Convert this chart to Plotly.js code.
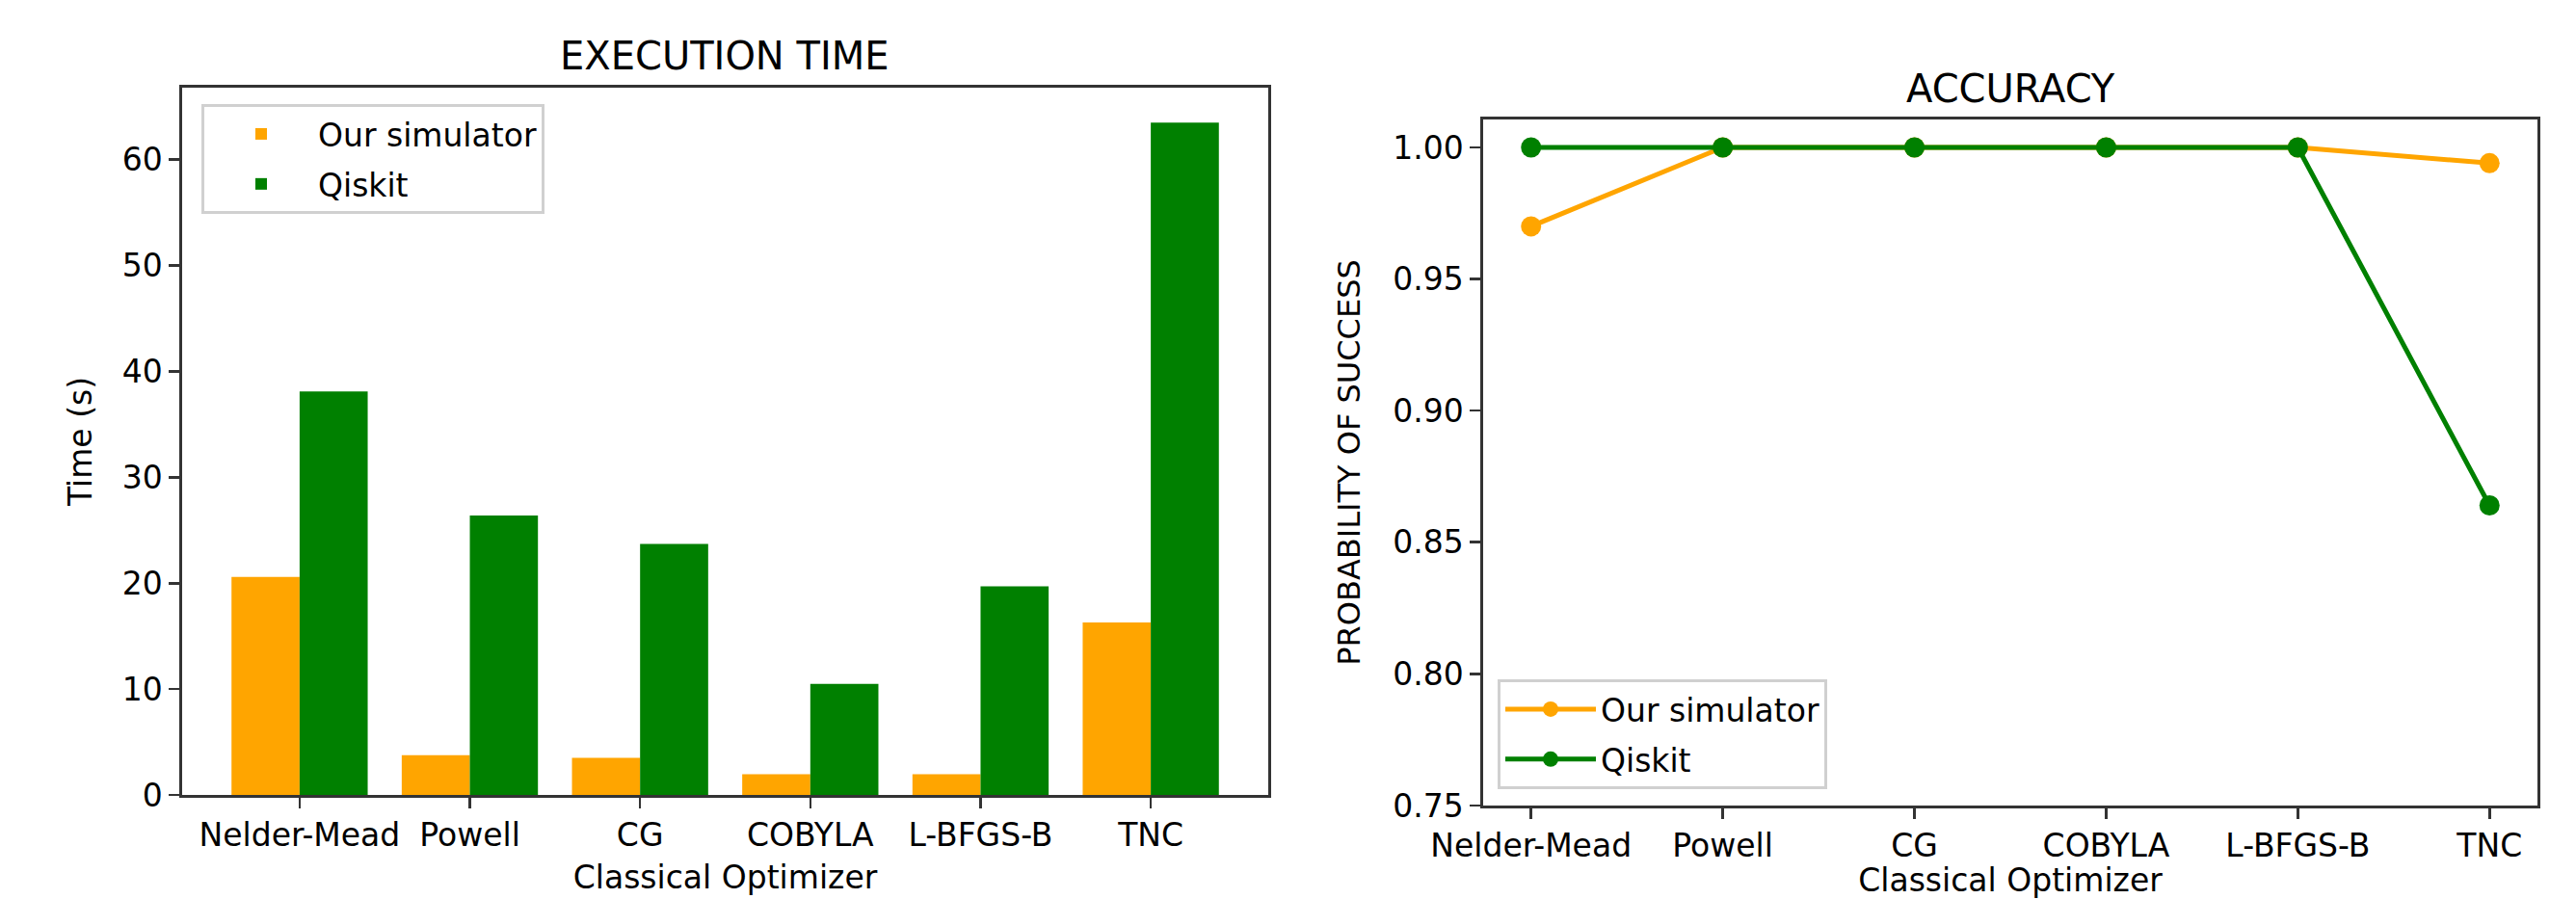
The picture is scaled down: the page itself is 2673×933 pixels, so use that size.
<!DOCTYPE html>
<html>
<head>
<meta charset="utf-8">
<script src="https://cdn.plot.ly/plotly-3.0.1.min.js"></script>
<style>
html, body { margin: 0; padding: 0; background: #fff; }
#chart { width: 2673px; height: 933px; }
</style>
</head>
<body>
<div id="chart"></div>
<script>
// ---- data ----
const categories = ['Nelder-Mead', 'Powell', 'CG', 'COBYLA', 'L-BFGS-B', 'TNC'];
const seriesNames = ['Our simulator', 'Qiskit'];
const timeOurSimulator = [20.6, 3.75, 3.5, 1.95, 1.95, 16.3];
const timeQiskit = [38.1, 26.4, 23.7, 10.5, 19.7, 63.5];
const accuracyOurSimulator = [0.970, 1.0, 1.0, 1.0, 1.0, 0.994];
const accuracyQiskit = [1.0, 1.0, 1.0, 1.0, 1.0, 0.864];
const timeTicks = [0, 10, 20, 30, 40, 50, 60];
const accuracyTicks = [0.75, 0.80, 0.85, 0.90, 0.95, 1.00];

const W = 2673, H = 933;
const FONT = 'DejaVu Sans, Liberation Sans, sans-serif';
const ORANGE = '#FFA500', GREEN = '#008000';
const AX = '#333333';

function px2x(p) { return p / W; }
function px2y(p) { return 1 - p / H; }

const traces = [
  { type: 'bar', name: seriesNames[0], x: categories, y: timeOurSimulator,
    marker: { color: ORANGE, line: { width: 0 } }, xaxis: 'x', yaxis: 'y',
    legend: 'legend', legendgroup: 'b0' },
  { type: 'bar', name: seriesNames[1], x: categories, y: timeQiskit,
    marker: { color: GREEN, line: { width: 0 } }, xaxis: 'x', yaxis: 'y',
    legend: 'legend', legendgroup: 'b1' },
  { type: 'scatter', mode: 'lines+markers', name: seriesNames[0], x: categories, y: accuracyOurSimulator,
    line: { color: ORANGE, width: 5 }, marker: { color: ORANGE, size: 21 },
    xaxis: 'x2', yaxis: 'y2', legend: 'legend2', legendgroup: 'l0' },
  { type: 'scatter', mode: 'lines+markers', name: seriesNames[1], x: categories, y: accuracyQiskit,
    line: { color: GREEN, width: 5 }, marker: { color: GREEN, size: 21 },
    xaxis: 'x2', yaxis: 'y2', legend: 'legend2', legendgroup: 'l1' }
];

const axisCommon = {
  showline: true, mirror: true, linecolor: AX, linewidth: 2.6,
  ticks: 'outside', ticklen: 11, tickwidth: 2.6, tickcolor: AX,
  showgrid: false, zeroline: false, automargin: false,
  tickfont: { family: FONT, size: 33, color: '#000' }
};

const layout = {
  width: W, height: H,
  margin: { l: 0, r: 0, t: 0, b: 0, pad: 0 },
  paper_bgcolor: '#fff', plot_bgcolor: '#fff',
  font: { family: FONT, size: 33, color: '#000' },
  barmode: 'group', bargap: 0.2, bargroupgap: 0,
  xaxis: Object.assign({}, axisCommon, {
    domain: [px2x(189), px2x(1316)], anchor: 'y',
    type: 'category', range: [-0.69, 5.69],
    title: { text: 'Classical Optimizer', font: { family: FONT, size: 33, color: '#000' }, standoff: 14 }
  }),
  yaxis: Object.assign({}, axisCommon, {
    domain: [px2y(825), px2y(91)], anchor: 'x',
    range: [0, 66.8], tickvals: timeTicks,
    title: { text: 'Time (s)', font: { family: FONT, size: 33, color: '#000' }, standoff: 22 }
  }),
  xaxis2: Object.assign({}, axisCommon, {
    domain: [px2x(1539), px2x(2633)], anchor: 'y2',
    type: 'category', range: [-0.25, 5.25],
    title: { text: 'Classical Optimizer', font: { family: FONT, size: 33, color: '#000' }, standoff: 16 }
  }),
  yaxis2: Object.assign({}, axisCommon, {
    domain: [px2y(836), px2y(124)], anchor: 'x2',
    range: [0.75, 1.0106], tickvals: accuracyTicks, tickformat: '.2f',
    title: { text: 'PROBABILITY OF SUCCESS', font: { family: FONT, size: 32, color: '#000' }, standoff: 24 }
  }),
  legend: {
    x: px2x(209), y: px2y(108), xanchor: 'left', yanchor: 'top',
    bgcolor: 'rgba(255,255,255,0.8)', bordercolor: '#d0d0d0', borderwidth: 3,
    font: { family: FONT, size: 33, color: '#000' }, itemwidth: 108,
    traceorder: 'grouped', tracegroupgap: 6
  },
  legend2: {
    x: px2x(1554), y: px2y(819), xanchor: 'left', yanchor: 'bottom',
    bgcolor: 'rgba(255,255,255,0.8)', bordercolor: '#d0d0d0', borderwidth: 3,
    font: { family: FONT, size: 33, color: '#000' }, itemwidth: 94,
    traceorder: 'grouped', tracegroupgap: 6
  },
  annotations: [
    { text: 'EXECUTION TIME', xref: 'paper', yref: 'paper', x: px2x(752), y: px2y(58),
      xanchor: 'center', yanchor: 'middle', showarrow: false,
      font: { family: FONT, size: 40, color: '#000' } },
    { text: 'ACCURACY', xref: 'paper', yref: 'paper', x: px2x(2086), y: px2y(92),
      xanchor: 'center', yanchor: 'middle', showarrow: false,
      font: { family: FONT, size: 40, color: '#000' } }
  ],
  showlegend: true
};

Plotly.newPlot('chart', traces, layout, { displayModeBar: false, staticPlot: true });
</script>
</body>
</html>
